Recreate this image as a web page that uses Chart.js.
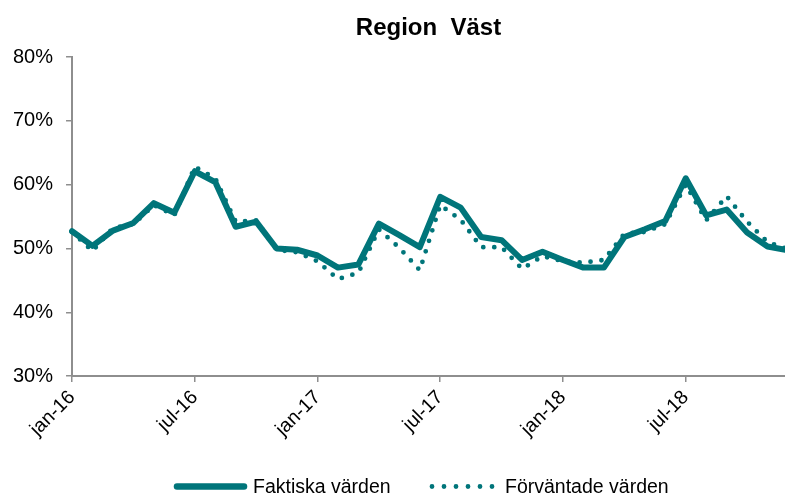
<!DOCTYPE html>
<html>
<head>
<meta charset="utf-8">
<script src="https://cdn.jsdelivr.net/npm/chart.js@4"></script>
<style>
  html, body { margin: 0; padding: 0; background: #fff; overflow: hidden; }
  .wrap { width: 788px; height: 497px; position: relative; }
</style>
</head>
<body>
<div class="wrap"><canvas class="myChart"></canvas></div>
<script>
var months = ["jan", "feb", "mar", "apr", "maj", "jun", "jul", "aug", "sep", "okt", "nov", "dec"];
var years = ["16", "17", "18"];
var labels = [];
years.forEach(function (y) {
  months.forEach(function (m) { labels.push(m + "-" + y); });
});

// values in percent
var faktiska = [52.7, 50.4, 52.8, 54.0, 57.1, 55.6, 62.1, 60.4, 53.4, 54.2, 50.0, 49.8,
  48.9, 47.0, 47.5, 53.9, 52.1, 50.2, 58.1, 56.4, 51.8, 51.3, 48.2, 49.5,
  48.2, 47.0, 47.0, 51.8, 53.0, 54.3, 61.0, 55.2, 56.1, 52.5, 50.3, 49.7];
var forvantade = [52.6, 49.6, 53.2, 53.8, 56.8, 55.2, 62.8, 61.0, 54.2, 54.4, 49.8, 49.4,
  48.0, 45.2, 46.2, 53.0, 50.1, 46.6, 56.8, 54.5, 50.2, 50.2, 46.8, 48.8,
  48.0, 47.8, 48.2, 52.3, 52.6, 53.8, 60.0, 54.4, 58.2, 54.2, 51.0, 49.9];

var title = "Region  Väst";
var teal = "#00757a";
var axisGray = "#8e8e8e";
var font = "'Liberation Sans', Arial, sans-serif";

//title over the plot area and a hand drawn legend (the two samples differ in length)
var extrasPlugin = {
  id: "extras",
  afterDraw: function (chart) {
    var ctx = chart.ctx;
    var area = chart.chartArea;
    ctx.save();
    ctx.fillStyle = "#000";
    ctx.font = "bold 24px " + font;
    ctx.textAlign = "center";
    ctx.textBaseline = "alphabetic";
    ctx.fillText(title, (area.left + 785) / 2, 35);

    var y = 486.5;
    ctx.strokeStyle = teal;
    ctx.lineCap = "round";
    ctx.lineWidth = 6.5;
    ctx.beginPath();
    ctx.moveTo(177, y);
    ctx.lineTo(244, y);
    ctx.stroke();

    ctx.lineWidth = 4.8;
    ctx.setLineDash([0, 12]);
    ctx.beginPath();
    ctx.moveTo(432, y);
    ctx.lineTo(494, y);
    ctx.stroke();
    ctx.setLineDash([]);

    ctx.textAlign = "left";
    ctx.font = "19.5px " + font;
    ctx.fillText(chart.data.datasets[0].label, 253, 493);
    ctx.fillText(chart.data.datasets[1].label, 505, 493);
    ctx.restore();
  }
};

var chart = new Chart(document.querySelector(".myChart"), {
  type: "line",
  data: {
    labels: labels,
    datasets: [
      {
        label: "Faktiska värden",
        data: faktiska,
        borderColor: teal,
        borderWidth: 6,
        borderCapStyle: "round",
        borderJoinStyle: "round",
        pointRadius: 0,
        tension: 0,
      },
      {
        label: "Förväntade värden",
        data: forvantade,
        borderColor: teal,
        borderWidth: 4.8,
        borderDash: [0, 11],
        borderCapStyle: "round",
        pointRadius: 0,
        tension: 0,
      },
    ],
  },
  options: {
    responsive: true,
    maintainAspectRatio: false,
    animation: false,
    layout: { padding: { left: 0, right: 0, top: 57, bottom: 52 } },
    plugins: {
      legend: { display: false },
      tooltip: { enabled: false },
      title: { display: false },
    },
    scales: {
      x: {
        offset: false,
        afterBuildTicks: function (scale) {
          scale.ticks = scale.ticks.filter(function (t) { return t.value % 6 === 0; });
        },
        grid: {
          display: true,
          drawOnChartArea: false,
          drawTicks: true,
          tickLength: 6,
          color: axisGray,
          lineWidth: 1.5,
        },
        border: { display: true, color: axisGray, width: 2 },
        ticks: {
          autoSkip: false,
          maxRotation: 45,
          minRotation: 45,
          color: "#000",
          padding: 4,
          font: { family: font, size: 19.5 },
        },
      },
      y: {
        min: 30,
        max: 80,
        grid: {
          display: true,
          drawOnChartArea: false,
          drawTicks: true,
          tickLength: 6,
          color: axisGray,
          lineWidth: 1.5,
        },
        border: { display: true, color: axisGray, width: 2 },
        ticks: {
          stepSize: 10,
          color: "#000",
          padding: 13,
          font: { family: font, size: 20 },
          callback: function (v) { return v + "%"; },
        },
      },
    },
  },
  plugins: [extrasPlugin],
});
</script>
</body>
</html>
